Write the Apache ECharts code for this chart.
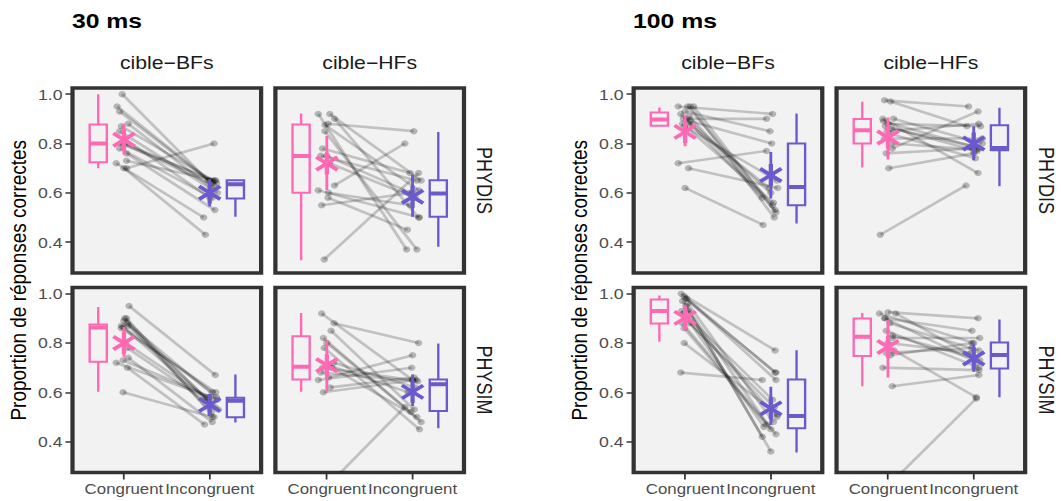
<!DOCTYPE html>
<html><head><meta charset="utf-8">
<script src="https://cdn.jsdelivr.net/npm/echarts@6/dist/echarts.min.js"></script>
<style>
html,body{margin:0;padding:0;background:#fff;overflow:hidden;width:1061px;height:501px}
#chart{width:900px;height:501px;transform:scaleX(1.178889);transform-origin:0 0;}
</style>
</head><body><div id="chart"></div>
<script>
// ---------- labels ----------
const xCategories = ['Congruent', 'Incongruent'];
const yTicks = [0.4, 0.6, 0.8, 1.0];
const durations = ['30 ms', '100 ms'];
const targets = ['cible\u2212BFs', 'cible\u2212HFs'];
const primes = ['PHYDIS', 'PHYSIM'];
const yTitle = 'Proportion de réponses correctes';

// ---------- 30 ms, PHYDIS, cible-BFs ----------
const d30_dis_bf_cong   = [1.00,0.95,0.93,0.88,0.87,0.85,0.82,0.80,0.80,0.80,0.78,0.76,0.73,0.72,0.70,0.70];
const d30_dis_bf_jitC   = [-0.02,-0.08,-0.05,0.05,-0.03,-0.05,0.0,-0.04,0.02,-0.01,-0.05,0.03,0.03,-0.09,0.0,0.03];
const d30_dis_bf_incong = [0.65,0.65,0.64,0.62,0.65,0.60,0.58,0.65,0.64,0.63,0.58,0.53,0.65,0.50,0.43,0.80];
const d30_dis_bf_jitI   = [-0.02,0.0,0.03,0.02,0.04,0.09,0.0,0.06,0.08,0.05,0.03,0.06,0.07,-0.07,-0.05,0.05];
const d30_dis_bf_boxC   = [0.70,0.724,0.80,0.877,1.0];
const d30_dis_bf_boxI   = [0.503,0.577,0.635,0.651,0.651];
const d30_dis_bf_meanC  = [0.815,0.755,0.88];
const d30_dis_bf_meanI  = [0.60,0.545,0.655];

// ---------- 30 ms, PHYDIS, cible-HFs ----------
const d30_dis_hf_cong   = [0.92,0.92,0.90,0.88,0.875,0.85,0.78,0.75,0.75,0.72,0.63,0.61,0.60,0.58,0.55,0.33];
const d30_dis_hf_jitC   = [-0.10,0.035,0.09,0.015,-0.02,-0.023,-0.05,0.0,-0.07,0.03,0.09,-0.10,0.02,0.015,-0.06,-0.03];
const d30_dis_hf_incong = [0.37,0.65,0.50,0.85,0.61,0.37,0.68,0.60,0.65,0.58,0.80,0.50,0.55,0.45,0.60,0.68];
const d30_dis_hf_jitI   = [-0.07,0.1,0.07,0.015,0.07,0.05,-0.03,-0.02,0.05,0.03,-0.09,0.08,-0.03,-0.06,0.0,0.07];
const d30_dis_hf_boxC   = [0.327,0.60,0.749,0.877,0.922];
const d30_dis_hf_boxI   = [0.381,0.503,0.597,0.651,0.847];
const d30_dis_hf_meanC  = [0.719,0.611,0.83];
const d30_dis_hf_meanI  = [0.584,0.503,0.674];

// ---------- 30 ms, PHYSIM, cible-BFs ----------
const d30_sim_bf_cong   = [0.95,0.90,0.90,0.89,0.88,0.87,0.87,0.865,0.86,0.80,0.78,0.74,0.73,0.72,0.70,0.60];
const d30_sim_bf_jitC   = [0.06,0.01,0.03,0.0,0.04,-0.03,0.05,-0.01,-0.03,0.02,0.04,0.05,-0.01,-0.09,0.04,-0.01];
const d30_sim_bf_incong = [0.67,0.56,0.50,0.58,0.52,0.60,0.57,0.53,0.60,0.58,0.54,0.48,0.57,0.58,0.47,0.50];
const d30_sim_bf_jitI   = [0.065,0.0,0.05,0.08,0.02,0.03,-0.02,0.1,0.07,-0.04,0.06,0.03,0.09,0.01,-0.06,0.03];
const d30_sim_bf_boxC   = [0.602,0.724,0.863,0.875,0.946];
const d30_sim_bf_boxI   = [0.478,0.499,0.566,0.578,0.672];
const d30_sim_bf_meanC  = [0.80,0.744,0.865];
const d30_sim_bf_meanI  = [0.549,0.508,0.582];

// ---------- 30 ms, PHYSIM, cible-HFs ----------
const d30_sim_hf_cong   = [0.92,0.88,0.85,0.82,0.80,0.78,0.72,0.71,0.70,0.70,0.68,0.66,0.65,0.62,0.60,0.20];
const d30_sim_hf_jitC   = [-0.06,0.085,0.05,-0.04,0.0,-0.03,0.08,0.02,-0.05,0.06,-0.07,0.02,-0.1,0.04,-0.04,-0.05];
const d30_sim_hf_incong = [0.65,0.80,0.53,0.48,0.52,0.45,0.62,0.60,0.65,0.50,0.645,0.75,0.70,0.66,0.65,0.54];
const d30_sim_hf_jitI   = [0.0,0.07,0.02,0.1,-0.02,0.08,0.03,-0.05,0.0,0.05,0.06,0.0,-0.01,0.02,0.04,-0.09];
const d30_sim_hf_boxC   = [0.602,0.652,0.704,0.827,0.922];
const d30_sim_hf_boxI   = [0.454,0.524,0.633,0.652,0.798];
const d30_sim_hf_meanC  = [0.71,0.602,0.811];
const d30_sim_hf_meanI  = [0.602,0.545,0.672];

// ---------- 100 ms, PHYDIS, cible-BFs ----------
const d100_dis_bf_cong   = [0.95,0.95,0.95,0.95,0.93,0.92,0.91,0.90,0.90,0.89,0.88,0.88,0.87,0.72,0.70,0.62];
const d100_dis_bf_jitC   = [-0.08,0.03,0.1,0.06,0.0,-0.05,0.05,-0.02,0.02,0.06,-0.03,0.04,-0.01,-0.08,0.04,0.0];
const d100_dis_bf_incong = [0.92,0.55,0.52,0.50,0.85,0.58,0.53,0.90,0.60,0.80,0.56,0.62,0.65,0.77,0.62,0.47];
const d100_dis_bf_jitI   = [0.02,0.02,0.06,0.04,-0.01,-0.1,0.05,-0.05,0.0,0.01,0.03,-0.02,0.07,-0.05,0.08,-0.09];
const d100_dis_bf_boxC   = [0.872,0.872,0.897,0.926,0.946];
const d100_dis_bf_boxI   = [0.476,0.55,0.624,0.80,0.922];
const d100_dis_bf_meanC  = [0.847,0.789,0.915];
const d100_dis_bf_meanI  = [0.672,0.577,0.766];

// ---------- 100 ms, PHYDIS, cible-HFs ----------
const d100_dis_hf_cong   = [0.975,0.97,0.90,0.90,0.89,0.88,0.87,0.86,0.85,0.84,0.82,0.80,0.78,0.76,0.70,0.43];
const d100_dis_hf_jitC   = [-0.04,0.03,-0.06,0.065,-0.05,0.0,-0.03,0.04,-0.01,0.02,-0.04,0.05,0.05,-0.02,0.01,-0.09];
const d100_dis_hf_incong = [0.95,0.87,0.68,0.80,0.78,0.87,0.77,0.79,0.88,0.74,0.82,0.775,0.93,0.78,0.76,0.63];
const d100_dis_hf_jitI   = [-0.06,-0.08,0.05,0.1,0.06,0.08,0.04,0.0,0.06,0.02,0.1,0.03,0.05,-0.02,0.0,-0.09];
const d100_dis_hf_boxC   = [0.703,0.80,0.854,0.899,0.969];
const d100_dis_hf_boxI   = [0.627,0.773,0.782,0.874,0.945];
const d100_dis_hf_meanC  = [0.824,0.735,0.905];
const d100_dis_hf_meanI  = [0.80,0.732,0.87];

// ---------- 100 ms, PHYSIM, cible-BFs ----------
const d100_sim_bf_cong   = [1.00,0.99,0.98,0.98,0.97,0.96,0.95,0.93,0.93,0.92,0.90,0.88,0.88,0.86,0.80,0.68];
const d100_sim_bf_jitC   = [-0.045,-0.01,0.0,0.02,-0.03,0.03,0.01,-0.04,0.04,-0.02,0.02,-0.03,0.05,-0.01,-0.01,-0.05];
const d100_sim_bf_incong = [0.77,0.68,0.68,0.65,0.45,0.48,0.42,0.57,0.36,0.46,0.50,0.43,0.54,0.47,0.51,0.65];
const d100_sim_bf_jitI   = [0.05,0.05,0.06,0.06,0.0,0.03,-0.1,0.02,0.0,-0.08,0.07,0.06,0.04,-0.05,0.08,-0.1];
const d100_sim_bf_boxC   = [0.805,0.879,0.93,0.976,0.993];
const d100_sim_bf_boxI   = [0.356,0.454,0.504,0.652,0.771];
const d100_sim_bf_meanC  = [0.902,0.852,0.953];
const d100_sim_bf_meanI  = [0.535,0.468,0.623];

// ---------- 100 ms, PHYSIM, cible-HFs ----------
const d100_sim_hf_cong   = [0.925,0.92,0.92,0.90,0.90,0.88,0.85,0.83,0.82,0.80,0.77,0.76,0.75,0.70,0.625,0.21];
const d100_sim_hf_jitC   = [0.0,-0.1,0.09,-0.04,-0.03,0.02,-0.02,0.05,0.05,0.0,0.07,-0.02,0.03,-0.06,0.05,-0.03];
const d100_sim_hf_incong = [0.90,0.80,0.73,0.85,0.72,0.77,0.70,0.74,0.82,0.76,0.58,0.78,0.80,0.69,0.67,0.575];
const d100_sim_hf_jitI   = [0.05,0.0,0.07,-0.02,0.04,0.06,0.06,0.0,0.07,-0.03,0.03,-0.02,-0.02,0.06,0.06,0.03];
const d100_sim_hf_boxC   = [0.625,0.747,0.825,0.899,0.922];
const d100_sim_hf_boxI   = [0.58,0.697,0.751,0.802,0.895];
const d100_sim_hf_meanC  = [0.784,0.66,0.892];
const d100_sim_hf_meanI  = [0.737,0.683,0.798];

// ---------- panel list (fig, row, col) ----------
const panels = [
  {fig:0,row:0,col:0, cong:d30_dis_bf_cong, jitC:d30_dis_bf_jitC, incong:d30_dis_bf_incong, jitI:d30_dis_bf_jitI, boxC:d30_dis_bf_boxC, boxI:d30_dis_bf_boxI, meanC:d30_dis_bf_meanC, meanI:d30_dis_bf_meanI},
  {fig:0,row:0,col:1, cong:d30_dis_hf_cong, jitC:d30_dis_hf_jitC, incong:d30_dis_hf_incong, jitI:d30_dis_hf_jitI, boxC:d30_dis_hf_boxC, boxI:d30_dis_hf_boxI, meanC:d30_dis_hf_meanC, meanI:d30_dis_hf_meanI},
  {fig:0,row:1,col:0, cong:d30_sim_bf_cong, jitC:d30_sim_bf_jitC, incong:d30_sim_bf_incong, jitI:d30_sim_bf_jitI, boxC:d30_sim_bf_boxC, boxI:d30_sim_bf_boxI, meanC:d30_sim_bf_meanC, meanI:d30_sim_bf_meanI},
  {fig:0,row:1,col:1, cong:d30_sim_hf_cong, jitC:d30_sim_hf_jitC, incong:d30_sim_hf_incong, jitI:d30_sim_hf_jitI, boxC:d30_sim_hf_boxC, boxI:d30_sim_hf_boxI, meanC:d30_sim_hf_meanC, meanI:d30_sim_hf_meanI},
  {fig:1,row:0,col:0, cong:d100_dis_bf_cong, jitC:d100_dis_bf_jitC, incong:d100_dis_bf_incong, jitI:d100_dis_bf_jitI, boxC:d100_dis_bf_boxC, boxI:d100_dis_bf_boxI, meanC:d100_dis_bf_meanC, meanI:d100_dis_bf_meanI},
  {fig:1,row:0,col:1, cong:d100_dis_hf_cong, jitC:d100_dis_hf_jitC, incong:d100_dis_hf_incong, jitI:d100_dis_hf_jitI, boxC:d100_dis_hf_boxC, boxI:d100_dis_hf_boxI, meanC:d100_dis_hf_meanC, meanI:d100_dis_hf_meanI},
  {fig:1,row:1,col:0, cong:d100_sim_bf_cong, jitC:d100_sim_bf_jitC, incong:d100_sim_bf_incong, jitI:d100_sim_bf_jitI, boxC:d100_sim_bf_boxC, boxI:d100_sim_bf_boxI, meanC:d100_sim_bf_meanC, meanI:d100_sim_bf_meanI},
  {fig:1,row:1,col:1, cong:d100_sim_hf_cong, jitC:d100_sim_hf_jitC, incong:d100_sim_hf_incong, jitI:d100_sim_hf_jitI, boxC:d100_sim_hf_boxC, boxI:d100_sim_hf_boxI, meanC:d100_sim_hf_meanC, meanI:d100_sim_hf_meanI}
];

// ---------- layout & style (unstretched 900px canvas) ----------
const FONT = '"Liberation Sans", Arial, Helvetica, sans-serif';
const FIG_X = [0, 476];
const COL_X = [61.5, 233.6];
const ROW_Y = [88, 287.5];
const PW = 160, PH = 185;
const Y_MIN = 0.275, Y_MAX = 1.025;
const X_MIN = 0.4, X_MAX = 2.6;
const PINK = '#FF69B4', PURPLE = '#6A5ACD';
const COLORS = [PINK, PURPLE];
const BOX_OFFSET = 0.3, BOX_HALF = 0.1;

function pairItem(params, api) {
  const a = api.coord([api.value(0), api.value(1)]);
  const b = api.coord([api.value(2), api.value(3)]);
  return {type:'group', children:[
    {type:'line', shape:{x1:a[0],y1:a[1],x2:b[0],y2:b[1]}, style:{stroke:'rgba(0,0,0,0.2)', lineWidth:2.6}},
    {type:'circle', shape:{cx:a[0],cy:a[1],r:3.2}, style:{fill:'rgba(0,0,0,0.25)'}},
    {type:'circle', shape:{cx:b[0],cy:b[1],r:3.2}, style:{fill:'rgba(0,0,0,0.25)'}}
  ]};
}
function boxItem(params, api) {
  const x = api.value(0);
  const col = COLORS[params.dataIndex];
  const lo = api.coord([x, api.value(1)]), q1 = api.coord([x, api.value(2)]),
        md = api.coord([x, api.value(3)]), q3 = api.coord([x, api.value(4)]),
        hi = api.coord([x, api.value(5)]);
  const xl = api.coord([x - BOX_HALF, api.value(3)])[0];
  const xr = api.coord([x + BOX_HALF, api.value(3)])[0];
  const st = {stroke: col, lineWidth: 2, fill: null};
  return {type:'group', children:[
    {type:'line', shape:{x1:hi[0],y1:hi[1],x2:q3[0],y2:q3[1]}, style:st},
    {type:'line', shape:{x1:q1[0],y1:q1[1],x2:lo[0],y2:lo[1]}, style:st},
    {type:'rect', shape:{x:xl, y:q3[1], width:xr-xl, height:q1[1]-q3[1]}, style:{stroke:col, lineWidth:2, fill:'none'}},
    {type:'line', shape:{x1:xl,y1:md[1],x2:xr,y2:md[1]}, style:{stroke:col, lineWidth:4}}
  ]};
}
function meanItem(params, api) {
  const x = api.value(0);
  const col = COLORS[params.dataIndex];
  const c = api.coord([x, api.value(1)]);
  const lo = api.coord([x, api.value(2)]), hi = api.coord([x, api.value(3)]);
  const st = {stroke: col, lineWidth: 2.4};
  const sa = {stroke: col, lineWidth: 3.6};
  const R = 11, DX = 9, DY = 6.5;
  return {type:'group', children:[
    {type:'line', shape:{x1:lo[0],y1:lo[1],x2:hi[0],y2:hi[1]}, style:st},
    {type:'line', shape:{x1:c[0],y1:c[1]-R,x2:c[0],y2:c[1]+R}, style:sa},
    {type:'line', shape:{x1:c[0]-DX,y1:c[1]-DY,x2:c[0]+DX,y2:c[1]+DY}, style:sa},
    {type:'line', shape:{x1:c[0]-DX,y1:c[1]+DY,x2:c[0]+DX,y2:c[1]-DY}, style:sa}
  ]};
}

const grids = [], xAxes = [], yAxes = [], series = [];
panels.forEach((p, i) => {
  const left = FIG_X[p.fig] + COL_X[p.col];
  const top = ROW_Y[p.row];
  grids.push({left:left, top:top, width:PW, height:PH, show:true,
    backgroundColor:'#F2F2F2', borderColor:'#333333', borderWidth:3.6, containLabel:false});
  const bottom = p.row === 1, leftCol = p.col === 0;
  xAxes.push({gridIndex:i, type:'value', min:X_MIN, max:X_MAX,
    axisLine:{show:false}, splitLine:{show:false},
    axisTick:{show:bottom, length:7, customValues:[1,2], lineStyle:{color:'#333333', width:1.5}},
    axisLabel:{show:bottom, customValues:[1,2], margin:9, fontSize:14.3, color:'#4D4D4D', fontFamily:FONT,
      hideOverlap:false, showMinLabel:true, showMaxLabel:true,
      formatter: v => xCategories[Math.round(v) - 1]}});
  yAxes.push({gridIndex:i, type:'value', min:Y_MIN, max:Y_MAX,
    axisLine:{show:false}, splitLine:{show:false},
    axisTick:{show:leftCol, length:6, customValues:yTicks, lineStyle:{color:'#333333', width:1.5}},
    axisLabel:{show:leftCol, customValues:yTicks, margin:8.5, fontSize:15, color:'#4D4D4D', fontFamily:FONT,
      hideOverlap:false, formatter: v => v.toFixed(1)}});
  const pairData = p.cong.map((c, k) => [1 + p.jitC[k], c, 2 + p.jitI[k], p.incong[k]]);
  series.push({type:'custom', xAxisIndex:i, yAxisIndex:i, clip:true, z:2,
    encode:{x:[0,2], y:[1,3]}, data:pairData, renderItem:pairItem});
  series.push({type:'custom', xAxisIndex:i, yAxisIndex:i, clip:true, z:3,
    encode:{x:0, y:[1,2,3,4,5]},
    data:[[1 - BOX_OFFSET].concat(p.boxC), [2 + BOX_OFFSET].concat(p.boxI)], renderItem:boxItem});
  series.push({type:'custom', xAxisIndex:i, yAxisIndex:i, clip:true, z:4,
    encode:{x:0, y:[1,2,3]},
    data:[[1].concat(p.meanC), [2].concat(p.meanI)], renderItem:meanItem});
});

const graphics = [];
function txt(x, y, text, size, opts) {
  opts = opts || {};
  graphics.push({type:'text', x:x, y:y, rotation:opts.rot || 0, silent:true,
    style:{x:0, y:0, text:text, fill:opts.color || '#000', fontSize:size, fontFamily:FONT,
      fontWeight:opts.bold ? 'bold' : 'normal',
      align:opts.align || 'center', verticalAlign:'middle',
      textAlign:opts.align || 'center', textVerticalAlign:'middle'}});
}
[0,1].forEach(f => {
  const fx = FIG_X[f];
  txt(fx + 61, 20.5, durations[f], 21, {bold:true, align:'left'});
  [0,1].forEach(c => txt(fx + COL_X[c] + PW/2, 63, targets[c], 18, {color:'#1A1A1A'}));
  [0,1].forEach(r => txt(fx + 411.4, ROW_Y[r] + PH/2, primes[r], 18, {color:'#1A1A1A', rot:-Math.PI/2}));
  txt(fx + 15.3, (ROW_Y[0] + ROW_Y[1] + PH) / 2, yTitle, 19, {rot:Math.PI/2});
});

const chart = echarts.init(document.getElementById('chart'), null, {renderer:'svg', width:900, height:501});
chart.setOption({
  animation:false,
  backgroundColor:'#ffffff',
  grid:grids, xAxis:xAxes, yAxis:yAxes, series:series, graphic:graphics
});
</script></body></html>
